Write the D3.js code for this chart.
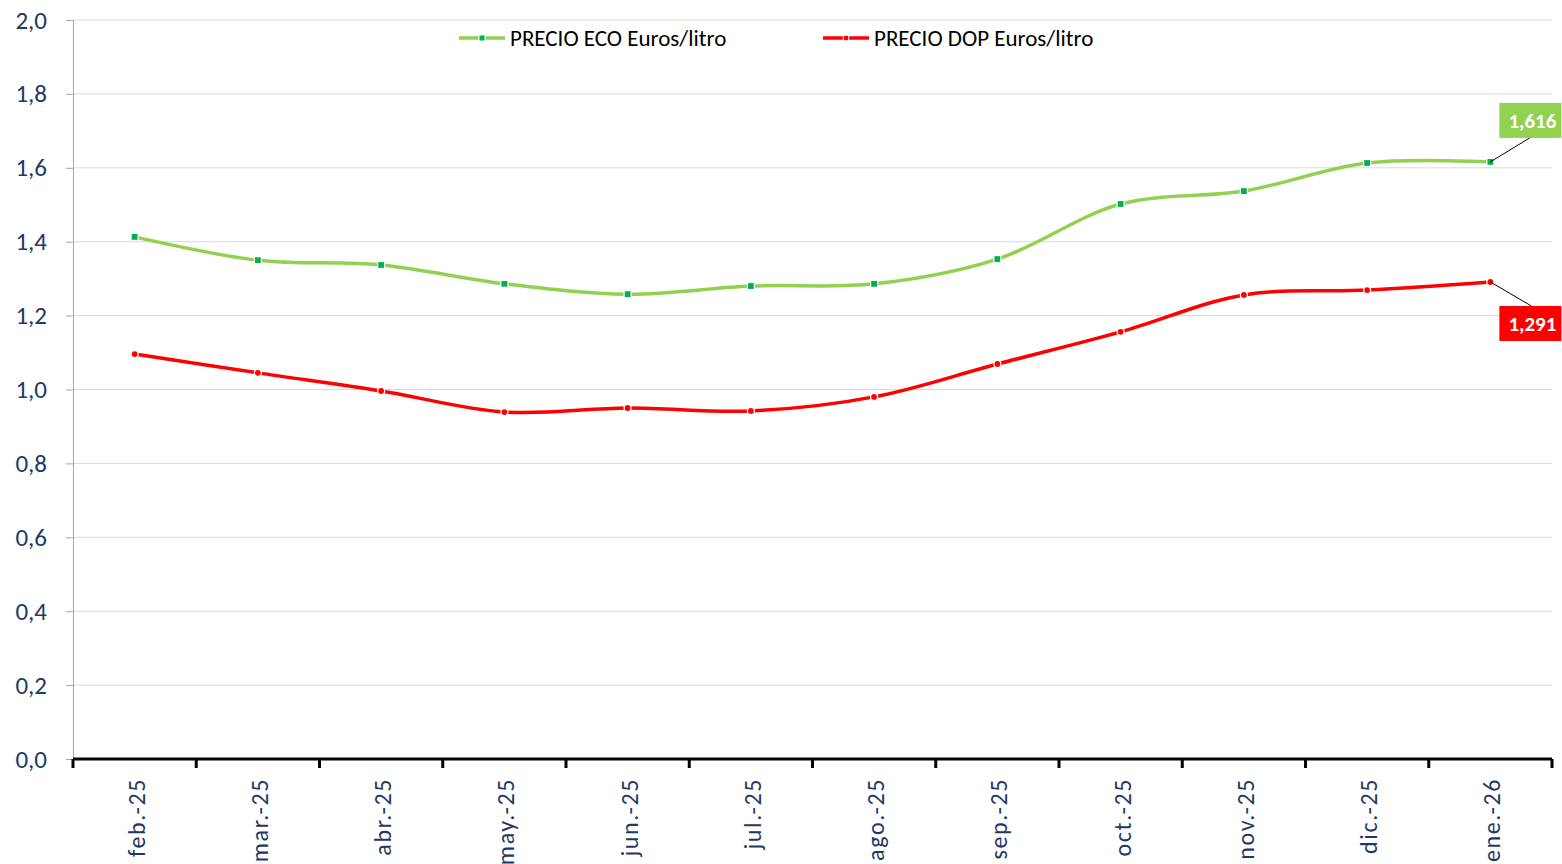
<!DOCTYPE html>
<html>
<head>
<meta charset="utf-8">
<script src="https://cdn.jsdelivr.net/npm/d3@7"></script>
<style>
  body { margin: 0; background: #fff; }
  svg { display: block; font-family: Carlito, Lato, sans-serif; }
</style>
</head>
<body>
<div id="chart"></div>
<script>
// Chart data
var months = ["feb.-25", "mar.-25", "abr.-25", "may.-25", "jun.-25", "jul.-25",
              "ago.-25", "sep.-25", "oct.-25", "nov.-25", "dic.-25", "ene.-26"];
var ecoValues = [1.413, 1.350, 1.337, 1.286, 1.258, 1.280, 1.286, 1.353, 1.502, 1.537, 1.613, 1.616];
var dopValues = [1.096, 1.045, 0.996, 0.939, 0.950, 0.942, 0.980, 1.069, 1.156, 1.256, 1.269, 1.291];
var yTicks = [0, 0.2, 0.4, 0.6, 0.8, 1.0, 1.2, 1.4, 1.6, 1.8, 2.0];
var seriesNames = ["PRECIO ECO Euros/litro", "PRECIO DOP Euros/litro"];

var W = 1562, H = 864;
var margin = {top: 20, right: 10, bottom: 105, left: 73};
var width = W - margin.left - margin.right,
    height = H - margin.top - margin.bottom;

var axisColor = "#1f3864";
var ecoColor = "#92d050", ecoMarker = "#00b050";
var dopColor = "#ff0000";

var svg = d3.select("#chart")
            .append("svg")
            .attr("width", W)
            .attr("height", H);

var g = svg.append("g")
           .attr("transform", "translate(" + margin.left + "," + margin.top + ")");

// Scales
var xScale = d3.scaleBand()
  .domain(months)
  .range([0, width]);

var yScale = d3.scaleLinear()
  .domain([0, 2])
  .range([height, 0]);

var fmt = function(d) { return d3.format(".1f")(d).replace(".", ","); };

// Gridlines
g.append("g")
  .selectAll("line")
  .data(yTicks.filter(function(d) { return d > 0; }))
  .enter()
  .append("line")
  .attr("x1", 0)
  .attr("x2", width)
  .attr("y1", function(d) { return yScale(d); })
  .attr("y2", function(d) { return yScale(d); })
  .style("stroke", "#d9d9d9")
  .style("stroke-width", 1);

// Y axis
var yAxis = d3.axisLeft(yScale)
  .tickValues(yTicks)
  .tickSize(7)
  .tickPadding(19)
  .tickFormat(fmt);

var yAxisGroup = g.append("g").attr("class", "y axis").call(yAxis);
yAxisGroup.select(".domain").style("stroke", "#a6a6a6");
yAxisGroup.selectAll(".tick line").style("stroke", "#a6a6a6");
yAxisGroup.selectAll("text")
  .style("font-size", "25px")
  .style("fill", axisColor)
  .style("font-family", "Carlito, Lato, sans-serif");

// X axis
var xAxisGroup = g.append("g")
  .attr("class", "x axis")
  .attr("transform", "translate(0," + height + ")");

xAxisGroup.append("line")
  .attr("x1", 0).attr("x2", width)
  .attr("y1", 0).attr("y2", 0)
  .style("stroke", "#000")
  .style("stroke-width", 3);

xAxisGroup.selectAll("line.tick")
  .data(d3.range(months.length + 1))
  .enter()
  .append("line")
  .attr("class", "tick")
  .attr("x1", function(i) { return i * xScale.step(); })
  .attr("x2", function(i) { return i * xScale.step(); })
  .attr("y1", 0)
  .attr("y2", 9)
  .style("stroke", "#000")
  .style("stroke-width", 3);

xAxisGroup.selectAll("text")
  .data(months)
  .enter()
  .append("text")
  .attr("transform", function(d) {
    return "translate(" + (xScale(d) + xScale.bandwidth() / 2 + 10) + ",19) rotate(-90)";
  })
  .attr("text-anchor", "end")
  .style("font-size", "24px")
  .style("letter-spacing", "1.6px")
  .style("fill", axisColor)
  .text(function(d) { return d; });

// Lines
var line = d3.line()
  .x(function(d, i) { return xScale(months[i]) + xScale.bandwidth() / 2; })
  .y(function(d) { return yScale(d); })
  .curve(d3.curveCatmullRom.alpha(0.5));

g.append("path")
  .datum(ecoValues)
  .attr("d", line)
  .style("fill", "none")
  .style("stroke", ecoColor)
  .style("stroke-width", 3.5);

g.append("path")
  .datum(dopValues)
  .attr("d", line)
  .style("fill", "none")
  .style("stroke", dopColor)
  .style("stroke-width", 3.5);

// Markers
g.selectAll("rect.eco")
  .data(ecoValues)
  .enter()
  .append("rect")
  .attr("class", "eco")
  .attr("x", function(d, i) { return xScale(months[i]) + xScale.bandwidth() / 2 - 3.5; })
  .attr("y", function(d) { return yScale(d) - 3.5; })
  .attr("width", 7)
  .attr("height", 7)
  .style("fill", ecoMarker)
  .style("stroke", "#fff")
  .style("stroke-width", 1.2);

g.selectAll("circle.dop")
  .data(dopValues)
  .enter()
  .append("circle")
  .attr("class", "dop")
  .attr("cx", function(d, i) { return xScale(months[i]) + xScale.bandwidth() / 2; })
  .attr("cy", function(d) { return yScale(d); })
  .attr("r", 3.5)
  .style("fill", dopColor)
  .style("stroke", "#fff")
  .style("stroke-width", 1.2);

// Data labels for last point
var last = months.length - 1;
var lastX = xScale(months[last]) + xScale.bandwidth() / 2;
var labels = [
  {value: ecoValues[last], color: ecoColor, dy: -42},
  {value: dopValues[last], color: dopColor, dy: 41}
];

labels.forEach(function(l) {
  var py = yScale(l.value);
  var by = py + l.dy;
  var bx = lastX + 9;
  g.append("line")
    .attr("x1", lastX).attr("y1", py)
    .attr("x2", lastX + 41).attr("y2", by + (l.dy < 0 ? 17 : -17))
    .style("stroke", "#000")
    .style("stroke-width", 1);
  g.append("rect")
    .attr("x", bx)
    .attr("y", by - 17)
    .attr("width", 62)
    .attr("height", 35)
    .style("fill", l.color);
  g.append("text")
    .attr("x", bx + 33)
    .attr("y", by + 8)
    .attr("text-anchor", "middle")
    .style("font-size", "21px")
    .style("font-weight", "bold")
    .style("fill", "#fff")
    .text(d3.format(".3f")(l.value).replace(".", ","));
});

// Legend
var legend = svg.append("g");
var legendItems = [
  {name: seriesNames[0], color: ecoColor, x: 459, square: true},
  {name: seriesNames[1], color: dopColor, x: 823, square: false}
];
legendItems.forEach(function(it) {
  var ly = 38;
  legend.append("line")
    .attr("x1", it.x).attr("x2", it.x + 46)
    .attr("y1", ly).attr("y2", ly)
    .style("stroke", it.color)
    .style("stroke-width", 3.5);
  if (it.square) {
    legend.append("rect")
      .attr("x", it.x + 20).attr("y", ly - 3)
      .attr("width", 6).attr("height", 6)
      .style("fill", ecoMarker).style("stroke", "#fff");
  } else {
    legend.append("circle")
      .attr("cx", it.x + 23).attr("cy", ly).attr("r", 3)
      .style("fill", dopColor).style("stroke", "#fff");
  }
  legend.append("text")
    .attr("x", it.x + 51)
    .attr("y", ly + 8)
    .style("font-size", "23px")
    .style("fill", "#000")
    .text(it.name);
});
</script>
</body>
</html>
